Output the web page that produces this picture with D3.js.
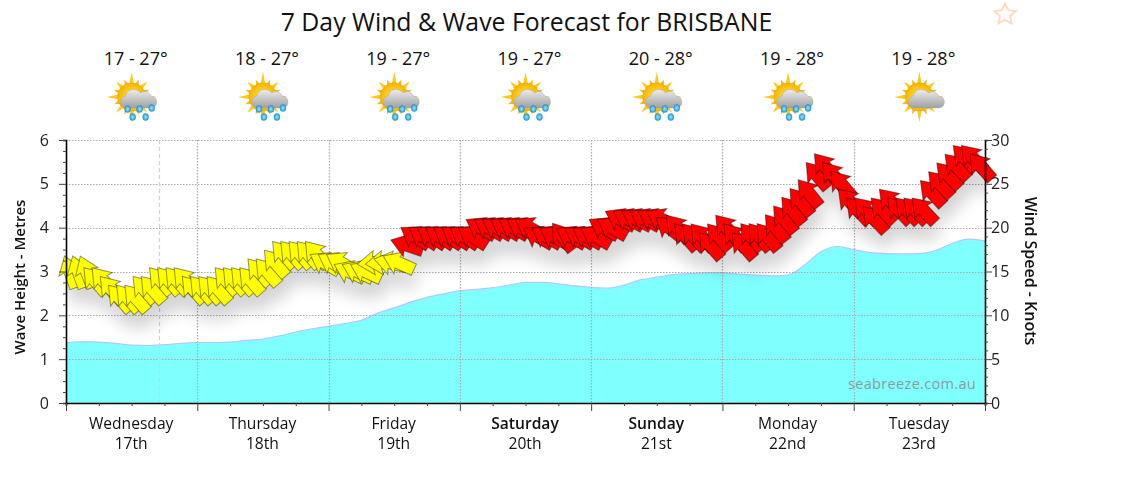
<!DOCTYPE html>
<html><head><meta charset="utf-8">
<script src="https://cdn.jsdelivr.net/npm/d3@7"></script>
<style>
html,body{margin:0;padding:0;background:#fff}
svg{display:block}
text{font-family:"Open Sans",sans-serif;fill:#111}
</style></head><body>
<div id="chart"></div>
<script>
const titleText = "7 Day Wind & Wave Forecast for BRISBANE";
const dayNames = ["Wednesday","Thursday","Friday","Saturday","Sunday","Monday","Tuesday"];
const dayDates = ["17th","18th","19th","20th","21st","22nd","23rd"];
const weekendFlags = [0,0,0,1,1,0,0];
const tempLabels = ["17 - 27°","18 - 27°","19 - 27°","19 - 27°","20 - 28°","19 - 28°","19 - 28°"];
const rainFlags = [1,1,1,1,1,1,0];
const waveTicks = [0,1,2,3,4,5,6];
const windTicks = [0,5,10,15,20,25,30];
// wave height (metres), every 3 hours
const waveMetres = [1.37,1.40,1.39,1.36,1.32,1.31,1.33,1.36,1.38,1.38,1.39,1.43,1.46,1.53,1.62,1.69,1.75,1.81,1.89,2.05,2.17,2.30,2.41,2.49,2.56,2.59,2.63,2.69,2.75,2.75,2.72,2.67,2.64,2.62,2.69,2.81,2.87,2.93,2.95,2.97,2.97,2.94,2.92,2.90,2.92,3.15,3.45,3.57,3.50,3.43,3.41,3.40,3.41,3.48,3.64,3.74,3.70];
// wind speed (knots), every 1.5 hours
const windKnots = [15,15,15,14,14,13,12,12,12,13,13,14,14,14,14,13,13,13,13,14,14,14,14,15,15,16,17,17,17,17,17,
16,16,16,15,15,15,16,16,16,16,
18,19,19,19,19,19,19,19,19,20,20,20,20,20,20,20,19,19,19,19,19,19,19,19,20,20,21,21,21,21,21,21,20,20,
19,19,19,18,19,20,19,18,19,19,19,20,21,22,23,24,26,27,26,25,23,22,22,21,22,23,22,22,22,22,24,25,26,27,28,28,27];
// arrow heading (degrees clockwise from north), every 1.5 hours
const windHeadings = [340,340,338,319,319,319,319,319,319,319,319,319,319,319,319,319,319,319,319,319,319,319,319,319,319,319,319,319,319,319,319,
300,300,300,295,295,295,265,265,283,294,
288,303,303,303,303,303,303,303,303,300,300,300,300,300,300,300,300,300,300,323,300,300,300,300,300,300,298,298,298,298,298,298,308,319,
319,319,319,319,319,319,319,319,
321,321,321,321,321,321,321,321,
320,320,320,320,
317,317,317,317,317,317,317,317,317,317,317,317,317,317,317,317,
319];
const nowHour = 17;
const redFrom = 18;

const W=1134,H=489;
const m={l:66,r:985,t:140,b:403};
const svg=d3.select("#chart").append("svg").attr("width",W).attr("height",H);
const defs=svg.append("defs");
const x=d3.scaleLinear().domain([0,168]).range([m.l,m.r]);
const yWave=d3.scaleLinear().domain([0,6]).range([m.b,m.t]);
const yWind=d3.scaleLinear().domain([0,30]).range([m.b,m.t]);
const dayHours=d3.range(0,169,24);

defs.append("clipPath").attr("id","plotClip").append("rect")
  .attr("x",x(0)).attr("y",yWave(6)).attr("width",x(168)-x(0)).attr("height",yWave(0)-yWave(6));
const blur=defs.append("filter").attr("id","shadowBlur").attr("filterUnits","userSpaceOnUse")
  .attr("x",0).attr("y",100).attr("width",W).attr("height",360);
blur.append("feGaussianBlur").attr("stdDeviation",8);

const sunGrad=defs.append("radialGradient").attr("id","sunG");
sunGrad.append("stop").attr("offset","0%").attr("stop-color","#ffe94a");
sunGrad.append("stop").attr("offset","100%").attr("stop-color","#f7b500");
const cloudGrad=defs.append("linearGradient").attr("id","cloudG").attr("x1",0).attr("x2",0).attr("y1",0).attr("y2",1);
cloudGrad.append("stop").attr("offset","0%").attr("stop-color","#ececec");
cloudGrad.append("stop").attr("offset","100%").attr("stop-color","#a0a0a0");
const dropGrad=defs.append("radialGradient").attr("id","dropG");
dropGrad.append("stop").attr("offset","0%").attr("stop-color","#9fe4fb");
dropGrad.append("stop").attr("offset","100%").attr("stop-color","#1f9ed8");

// wave area
const area=d3.area().x((d,i)=>x(i*3)).y0(yWave(0)).y1(d=>yWave(d)).curve(d3.curveMonotoneX);
const line=d3.line().x((d,i)=>x(i*3)).y(d=>yWave(d)).curve(d3.curveMonotoneX);
svg.append("path").datum(waveMetres).attr("d",area).attr("fill","#80ffff");
svg.append("path").datum(waveMetres).attr("d",line).attr("fill","none").attr("stroke","#b4c8ff").attr("stroke-width",1.2);

// grid
const grid=svg.append("g").attr("stroke","#aaa").attr("stroke-width",1.2).attr("stroke-dasharray","1.5 1.5").attr("fill","none");
grid.selectAll("line.h").data(waveTicks.slice(1)).join("line").attr("class","h")
  .attr("x1",x(0)).attr("x2",x(168)).attr("y1",d=>Math.round(yWave(d))+.5).attr("y2",d=>Math.round(yWave(d))+.5);
grid.selectAll("line.v").data(dayHours.slice(1,-1)).join("line").attr("class","v")
  .attr("y1",yWave(6)).attr("y2",yWave(0)).attr("x1",d=>Math.round(x(d))+.5).attr("x2",d=>Math.round(x(d))+.5);
svg.append("line").attr("x1",Math.round(x(nowHour))+.5).attr("x2",Math.round(x(nowHour))+.5)
  .attr("y1",yWave(6)).attr("y2",yWave(0))
  .attr("stroke","#ccccff").attr("stroke-width",1.2).attr("stroke-dasharray","4 3");

svg.append("text").attr("x",848).attr("y",389).attr("font-size",14.5).style("fill","#8a9a9c").attr("letter-spacing",.33).text("seabreeze.com.au");

// arrows
const arrowPath=(()=>{const p=d3.path();
  p.moveTo(0,-16.5);p.lineTo(12,.5);p.lineTo(6.2,-.8);p.lineTo(6.2,17);p.lineTo(-6.2,17);p.lineTo(-6.2,-.8);p.lineTo(-12,.5);p.closePath();return p.toString();})();
const windData=windKnots.map((k,i)=>({k,h:windHeadings[i],t:0.75+1.5*i}));
const tf=d=>`translate(${x(d.t)},${yWind(d.k)}) rotate(${d.h})`;
const shadow=svg.append("g").attr("clip-path","url(#plotClip)")
  .append("g").attr("filter","url(#shadowBlur)").attr("opacity",.17).append("g").attr("transform","translate(3,15)");
shadow.selectAll("path").data(windData).join("path").attr("d",arrowPath).attr("transform",tf).attr("fill","#000");
svg.append("g").selectAll("path").data(windData).join("path").attr("d",arrowPath).attr("transform",tf)
  .attr("fill",d=>d.k>=redFrom?"#ff0000":"#ffff00")
  .attr("stroke","rgba(0,0,0,.42)").attr("stroke-width",1);

// axes
const styleAxis=g=>{g.selectAll("path.domain").attr("stroke","#000").attr("stroke-width",1.6);g.selectAll(".tick line").attr("stroke","#444");};
const gl=svg.append("g").attr("transform",`translate(${x(0)},0)`);
gl.call(d3.axisLeft(yWave).tickValues(d3.range(0,6.01,.25)).tickSizeOuter(0).tickSize(3).tickFormat(""));
gl.selectAll(".tick").filter(d=>Number.isInteger(d)).select("line").attr("x2",-7);
styleAxis(gl);
gl.append("g").selectAll("text").data(waveTicks).join("text").attr("x",-17).attr("y",d=>yWave(d)+5.5).attr("text-anchor","end").text(d=>d).attr("font-size",16).style("fill","#222");
const gr=svg.append("g").attr("transform",`translate(${x(168)},0)`);
gr.call(d3.axisRight(yWind).tickValues(d3.range(0,31)).tickSizeOuter(0).tickSize(3).tickFormat(""));
gr.selectAll(".tick").filter(d=>d%5===0).select("line").attr("x2",7);
styleAxis(gr);
gr.append("g").selectAll("text").data(windTicks).join("text").attr("x",6).attr("y",d=>yWind(d)+5.5).text(d=>d).attr("font-size",16).style("fill","#222");
const gb=svg.append("g").attr("transform",`translate(0,${yWave(0)})`);
gb.call(d3.axisBottom(x).tickValues(d3.range(0,169,6)).tickSizeOuter(0).tickSize(3).tickFormat(""));
gb.selectAll(".tick").filter(d=>d%24===0).select("line").attr("y2",8);
styleAxis(gb);

// labels
svg.append("text").attr("x",526.5).attr("y",31).attr("text-anchor","middle").attr("font-size",24.8).style("font-weight",500).text(titleText);
svg.append("text").attr("transform","translate(25,277) rotate(-90)").attr("text-anchor","middle").attr("font-size",15).style("font-weight",600).text("Wave Height - Metres");
svg.append("text").attr("transform","translate(1025,271) rotate(90)").attr("text-anchor","middle").attr("font-size",16).style("font-weight",600).text("Wind Speed - Knots");
const dayG=svg.append("g").selectAll("g").data(dayNames).join("g").attr("transform",(d,i)=>`translate(${x(i*24+12)-.5},0)`);
dayG.append("text").attr("y",428.5).attr("text-anchor","middle").attr("font-size",15.6).style("font-weight",(d,i)=>weekendFlags[i]?600:400).text(d=>d);
dayG.append("text").attr("y",449).attr("text-anchor","middle").attr("font-size",15.6).text((d,i)=>dayDates[i]);

// forecast header
const head=svg.append("g").selectAll("g").data(tempLabels).join("g").attr("transform",(d,i)=>`translate(${x(i*24+12)},0)`);
head.append("text").attr("x",4).attr("y",65).attr("text-anchor","middle").attr("font-size",18).text(d=>d);
const icon=head.append("g").attr("transform","translate(0,97)");
const spikes=d3.range(16);
const spikePath=a=>{const r=a%4===0?25:a%2===0?22:19;const rad=a*Math.PI/8;const b=.27;
  return `M${Math.cos(rad-b)*11},${Math.sin(rad-b)*11}L${Math.cos(rad)*r},${Math.sin(rad)*r}L${Math.cos(rad+b)*11},${Math.sin(rad+b)*11}Z`;};
icon.selectAll("path.s").data(spikes).join("path").attr("class","s")
  .attr("d",spikePath).attr("fill",a=>a%2?"#f6b52e":"#fdc91e");
icon.append("circle").attr("r",14).attr("fill","url(#sunG)").attr("stroke","#eea800").attr("stroke-width",.6);
const cloudPath=(()=>{const p=d3.path();p.moveTo(-4,11);p.bezierCurveTo(-13,11,-13,0,-6,-1);p.bezierCurveTo(-5,-9,6,-9,9,-4);p.bezierCurveTo(13,-7,18,-5,19,-1);p.bezierCurveTo(27,-1,27,11,19,11);p.closePath();return p.toString();})();
icon.append("path").attr("d",cloudPath).attr("fill","url(#cloudG)").attr("stroke","#a0a0a0").attr("stroke-width",.4);
const dropSpots=[[-4,12],[8,12],[20,11],[1,20],[14,20]];
icon.filter((d,i)=>rainFlags[i]).selectAll("ellipse").data(dropSpots).join("ellipse")
  .attr("cx",d=>d[0]).attr("cy",d=>d[1]).attr("rx",3).attr("ry",3.6).attr("fill","url(#dropG)").attr("stroke","#1684bd").attr("stroke-width",.4);

// star
const starPts=d3.range(10).map(i=>{const r=i%2?5.4:11,a=i*Math.PI/5-Math.PI/2;return [1005+r*Math.cos(a),14.5+r*Math.sin(a)];});
svg.append("path").attr("d",d3.line()(starPts)+"Z").attr("fill","none").attr("stroke","#fddcc0").attr("stroke-width",2);
</script>
</body></html>
